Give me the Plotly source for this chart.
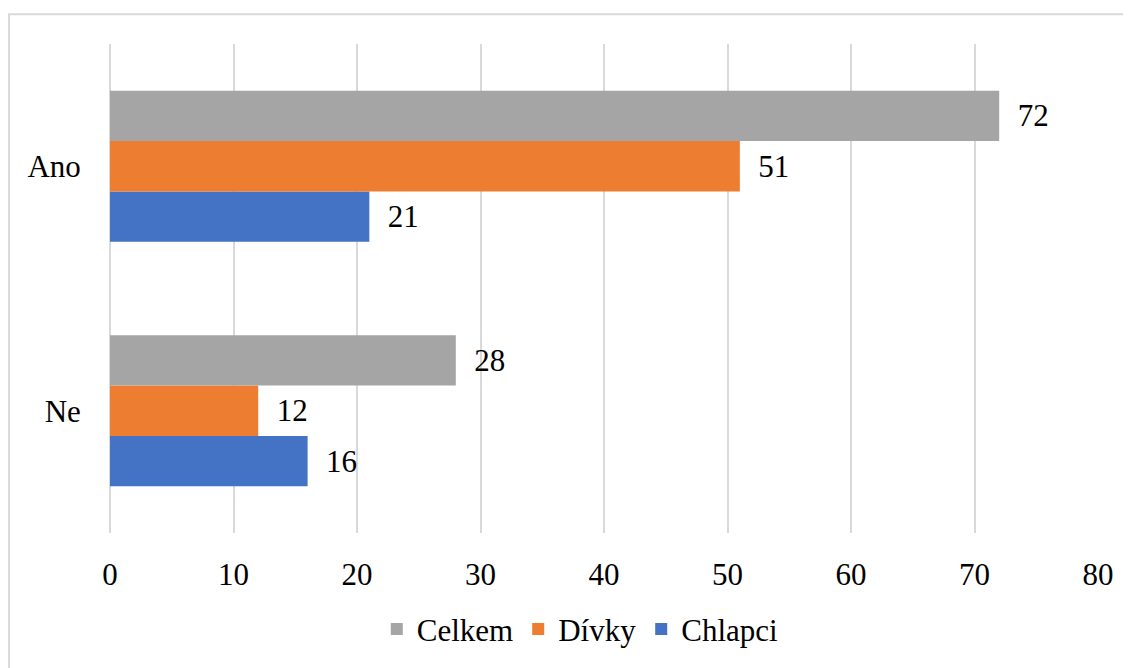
import plotly.graph_objects as go

categories = ["Ne", "Ano"]
chlapci = [16, 21]
divky = [12, 51]
celkem = [28, 72]
x_ticks = [0, 10, 20, 30, 40, 50, 60, 70, 80]

FONT = "Liberation Serif"
FS = 31

fig = go.Figure()
series = [("Chlapci", chlapci, "#4472c4"), ("Dívky", divky, "#ed7d31"), ("Celkem", celkem, "#a5a5a5")]
for name, vals, col in series:
    fig.add_trace(go.Bar(
        y=categories, x=vals, name=name, orientation="h",
        marker=dict(color=col, line=dict(width=0)),
        text=vals, texttemplate="  %{x}", textposition="outside",
        textfont=dict(family=FONT, size=FS, color="#000000"),
        cliponaxis=False,
    ))

fig.update_layout(
    width=1123, height=660,
    margin=dict(l=102, r=33, t=36, b=132),
    paper_bgcolor="white", plot_bgcolor="white",
    barmode="group", bargap=0.382, bargroupgap=0,
    font=dict(family=FONT, size=FS, color="#000000"),
    showlegend=True,
    legend=dict(orientation="h", traceorder="reversed", x=0.476, xanchor="center",
                y=-0.197, yanchor="middle", font=dict(family=FONT, size=FS),
                itemwidth=30, bgcolor="rgba(0,0,0,0)"),
    xaxis=dict(range=[0, 80], tickvals=x_ticks, showgrid=True, gridcolor="#d9d9d9", gridwidth=2,
               zeroline=True, zerolinecolor="#d9d9d9", zerolinewidth=2, showline=False,
               ticks="outside", ticklen=14, tickcolor="rgba(0,0,0,0)",
               tickfont=dict(family=FONT, size=FS)),
    yaxis=dict(categoryorder="array", categoryarray=categories, showgrid=False, zeroline=False,
               showline=False, ticks="outside", ticklen=22, tickcolor="rgba(0,0,0,0)",
               tickfont=dict(family=FONT, size=FS)),
    shapes=[dict(type="rect", xref="paper", yref="paper", x0=-0.1022, x1=1.2, y0=-0.5, y1=1.061,
                 line=dict(color="#d9d9d9", width=2), fillcolor="rgba(0,0,0,0)", layer="below")],
)

fig.write_html("out.html")
